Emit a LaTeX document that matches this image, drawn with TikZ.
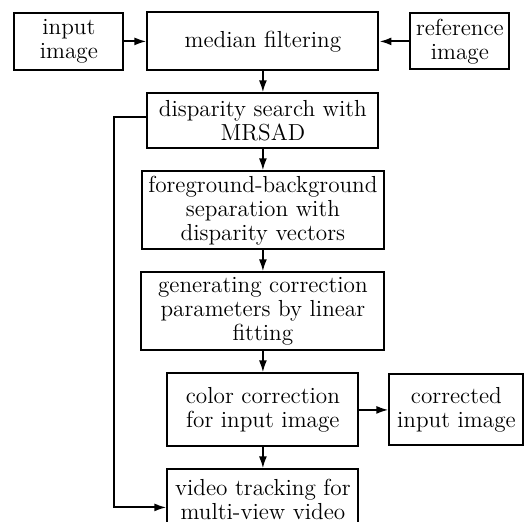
\documentclass[tikz,border=0pt]{standalone}
\usepackage{amsmath}
\usepackage{tikz}
\usetikzlibrary{matrix, arrows.meta}

\tikzset{
  blk/.style={draw, line width=1pt, align=center, inner sep=1pt, anchor=center,
    font=\fontsize{11.6}{12}\selectfont},
  flow/.style={line width=1pt, -{Latex[length=6pt,width=4pt]}}
}

\begin{document}
\begin{tikzpicture}[x=0.5pt, y=-0.5pt]
\useasboundingbox (0,0) rectangle (528,521);
\matrix (m) [anchor=north west, inner sep=0pt, column sep=8pt, row sep=10.5pt] at (13,11) {
\node[blk, minimum width=54.5pt, minimum height=28.5pt](inp){input\\image}; &
\node[blk, minimum width=115.5pt, minimum height=29pt](med){median filtering}; &[-6.5pt]
\node[blk, minimum width=49.5pt, minimum height=28pt, xshift=1.75pt](ref){reference\\image}; \\
& \node[blk, minimum width=115.5pt, minimum height=27.5pt](dis){disparity search with\\MRSAD}; & \\
& \node[blk, minimum width=121pt, minimum height=39pt](sep){foreground-background\\separation with\\disparity vectors}; & \\
& \node[blk, minimum width=121.5pt, minimum height=39pt](gen){generating correction\\parameters by linear\\fitting}; & \\
& \node[blk, minimum width=95.5pt, minimum height=36.5pt](col){color correction\\for input image}; &
\node[blk, minimum width=67pt, minimum height=35.5pt](out){corrected\\input image}; \\
& \node[blk, minimum width=95.5pt, minimum height=30pt](vid){video tracking for\\multi-view video}; & \\
};
\draw[flow] (inp) -- (med);
\draw[flow] (ref) -- (med);
\draw[flow] (med) -- (dis);
\draw[flow] (dis) -- (sep);
\draw[flow] (sep) -- (gen);
\draw[flow] (gen) -- (col);
\draw[flow] (col) -- (out);
\draw[flow] (col) -- (vid);
\draw[flow] ([yshift=1.75pt]dis.west) -- ++(-32,0) |- ([yshift=-4pt]vid.west);
\end{tikzpicture}
\end{document}
